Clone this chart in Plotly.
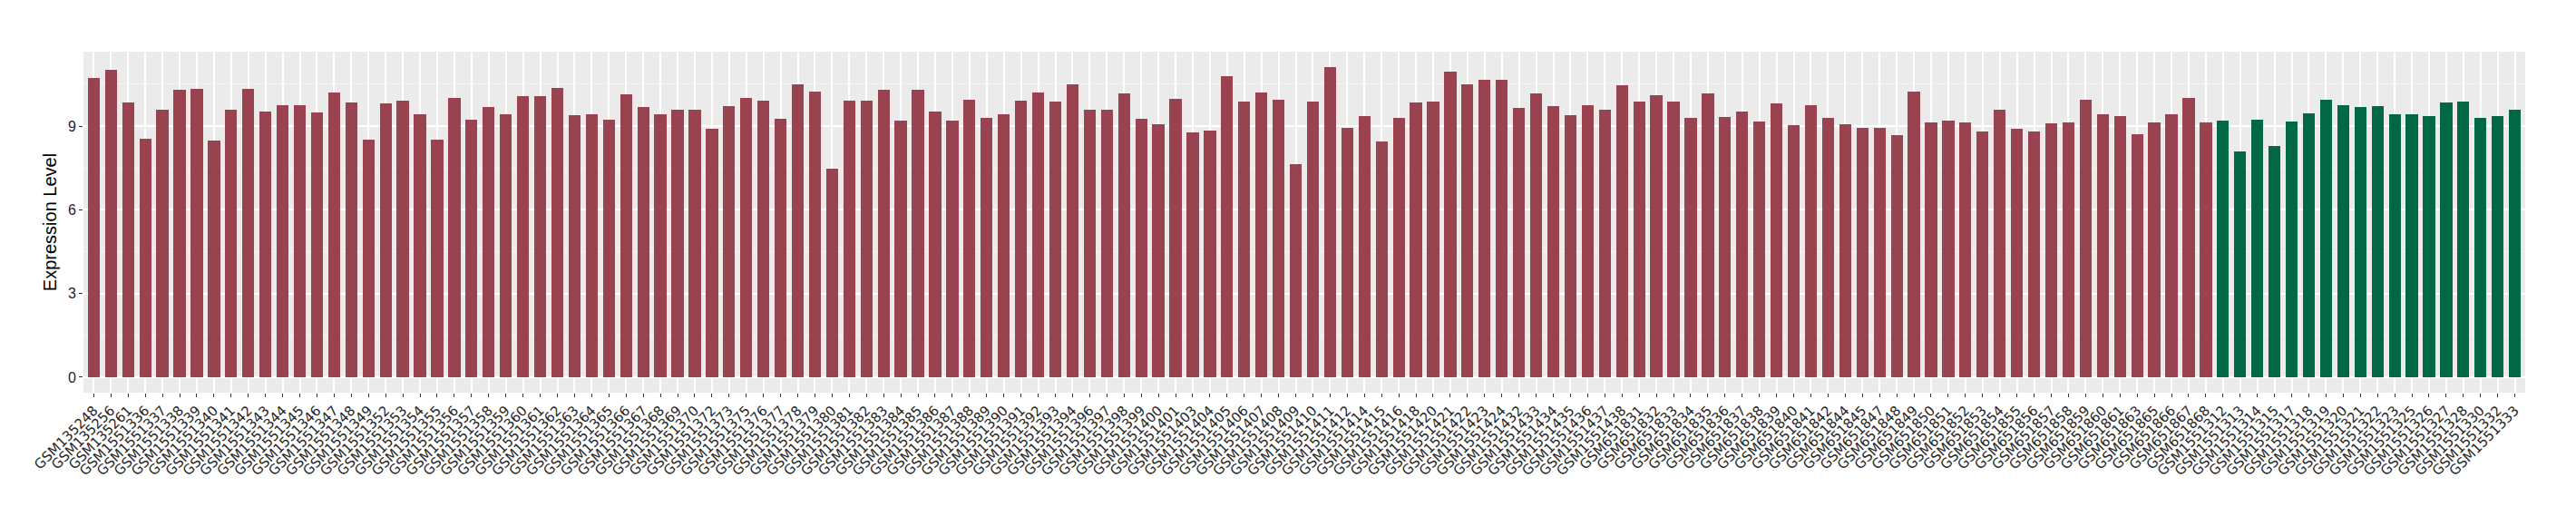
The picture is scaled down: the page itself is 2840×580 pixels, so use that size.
import plotly.graph_objects as go

red_samples = [
    "GSM135248", "GSM135256", "GSM135261",
    "GSM1551336", "GSM1551337", "GSM1551338", "GSM1551339", "GSM1551340", "GSM1551341",
    "GSM1551342", "GSM1551343", "GSM1551344", "GSM1551345", "GSM1551346", "GSM1551347",
    "GSM1551348", "GSM1551349", "GSM1551352", "GSM1551353", "GSM1551354", "GSM1551355",
    "GSM1551356", "GSM1551357", "GSM1551358", "GSM1551359", "GSM1551360", "GSM1551361",
    "GSM1551362", "GSM1551363", "GSM1551364", "GSM1551365", "GSM1551366", "GSM1551367",
    "GSM1551368", "GSM1551369", "GSM1551370", "GSM1551372", "GSM1551373", "GSM1551375",
    "GSM1551376", "GSM1551377", "GSM1551378", "GSM1551379", "GSM1551380", "GSM1551381",
    "GSM1551382", "GSM1551383", "GSM1551384", "GSM1551385", "GSM1551386", "GSM1551387",
    "GSM1551388", "GSM1551389", "GSM1551390", "GSM1551391", "GSM1551392", "GSM1551393",
    "GSM1551394", "GSM1551396", "GSM1551397", "GSM1551398", "GSM1551399", "GSM1551400",
    "GSM1551401", "GSM1551403", "GSM1551404", "GSM1551405", "GSM1551406", "GSM1551407",
    "GSM1551408", "GSM1551409", "GSM1551410", "GSM1551411", "GSM1551412", "GSM1551414",
    "GSM1551415", "GSM1551416", "GSM1551418", "GSM1551420", "GSM1551421", "GSM1551422",
    "GSM1551423", "GSM1551424", "GSM1551432", "GSM1551433", "GSM1551434", "GSM1551435",
    "GSM1551436", "GSM1551437", "GSM1551438",
    "GSM651831", "GSM651832", "GSM651833", "GSM651834", "GSM651835", "GSM651836",
    "GSM651837", "GSM651838", "GSM651839", "GSM651840", "GSM651841", "GSM651842",
    "GSM651844", "GSM651845", "GSM651847", "GSM651848", "GSM651849", "GSM651850",
    "GSM651851", "GSM651852", "GSM651853", "GSM651854", "GSM651855", "GSM651856",
    "GSM651857", "GSM651858", "GSM651859", "GSM651860", "GSM651861", "GSM651863",
    "GSM651865", "GSM651866", "GSM651867", "GSM651868",
]

red_values = [
    10.71, 11.02, 9.83,
    8.53, 9.60, 10.29, 10.32, 8.48, 9.60,
    10.32, 9.51, 9.74, 9.74, 9.48, 10.20,
    9.83, 8.50, 9.81, 9.90, 9.41, 8.50,
    10.00, 9.22, 9.67, 9.41, 10.06, 10.06,
    10.36, 9.38, 9.41, 9.22, 10.13, 9.67,
    9.41, 9.60, 9.58, 8.90, 9.71, 10.00,
    9.90, 9.25, 10.48, 10.23, 7.46, 9.90,
    9.90, 10.29, 9.18, 10.29, 9.51, 9.18,
    9.93, 9.28, 9.41, 9.90, 10.20, 9.87,
    10.48, 9.58, 9.60, 10.16, 9.25, 9.06,
    9.97, 8.76, 8.83, 10.78, 9.87, 10.20,
    9.93, 7.63, 9.87, 11.11, 8.95, 9.35,
    8.44, 9.28, 9.83, 9.87, 10.94, 10.48,
    10.65, 10.67, 9.64, 10.16, 9.71, 9.38,
    9.74, 9.60, 10.46,
    9.87, 10.09, 9.87, 9.28, 10.16, 9.32,
    9.51, 9.16, 9.81, 9.02, 9.74, 9.28,
    9.06, 8.95, 8.95, 8.67, 10.23, 9.13,
    9.18, 9.13, 8.79, 9.60, 8.90, 8.79,
    9.09, 9.13, 9.93, 9.41, 9.35, 8.70,
    9.13, 9.41, 10.02, 9.13,
]

green_samples = [
    "GSM1551312", "GSM1551313", "GSM1551314", "GSM1551315", "GSM1551317", "GSM1551318",
    "GSM1551319", "GSM1551320", "GSM1551321", "GSM1551322", "GSM1551323", "GSM1551325",
    "GSM1551326", "GSM1551327", "GSM1551328", "GSM1551330", "GSM1551332", "GSM1551333",
]

green_values = [
    9.18, 8.08, 9.22, 8.30, 9.16, 9.44,
    9.93, 9.74, 9.67, 9.71, 9.41, 9.41,
    9.35, 9.83, 9.87, 9.28, 9.35, 9.60,
]

y_tick_values = [0, 3, 6, 9]
y_tick_labels = ["0", "3", "6", "9"]

RED = "#9B4251"
GREEN = "#006847"
FONT = "Liberation Sans, Arial, sans-serif"
XFONT = "DejaVu Sans, Liberation Sans, sans-serif"

all_samples = red_samples + green_samples
all_values = red_values + green_values
ymax = max(all_values)
n = len(all_samples)

fig = go.Figure()
fig.add_trace(go.Bar(x=red_samples, y=red_values, marker=dict(color=RED, line=dict(width=0)),
                     width=0.7, showlegend=False))
fig.add_trace(go.Bar(x=green_samples, y=green_values, marker=dict(color=GREEN, line=dict(width=0)),
                     width=0.7, showlegend=False))

fig.update_layout(
    width=2840, height=580,
    margin=dict(l=92, r=56, t=57, b=147, autoexpand=False),
    paper_bgcolor="white",
    plot_bgcolor="#EBEBEB",
    barmode="overlay",
    bargap=0,
    font=dict(family=FONT, color="#333333"),
    xaxis=dict(
        type="category",
        categoryorder="array", categoryarray=all_samples,
        tickmode="array", tickvals=all_samples, ticktext=all_samples,
        range=[-0.6, n - 1 + 0.6],
        tickangle=-45,
        tickfont=dict(size=15, family=XFONT, color="#262626"),
        ticks="outside", ticklen=4, tickcolor="#333333", tickwidth=1,
        showgrid=True, gridcolor="white", gridwidth=1.6,
        showline=False, zeroline=False,
        automargin=False,
    ),
    yaxis=dict(
        range=[-0.05 * ymax, 1.05 * ymax],
        tickmode="array", tickvals=y_tick_values, ticktext=y_tick_labels,
        tickfont=dict(size=16, family=FONT, color="#262626"),
        ticks="outside", ticklen=4, tickcolor="#333333", tickwidth=1,
        showgrid=True, gridcolor="white", gridwidth=2,
        minor=dict(tick0=0, dtick=1.5, showgrid=True, gridcolor="#F5F5F5", gridwidth=1, ticks=""),
        zeroline=False, showline=False,
        title=dict(text="Expression Level", font=dict(size=20, family=FONT, color="black"), standoff=6),
        automargin=False,
    ),
)

fig.write_html(
    "out.html",
    config={"displayModeBar": False},
    post_script="document.body.style.margin='0';document.body.style.overflow='hidden';",
)
